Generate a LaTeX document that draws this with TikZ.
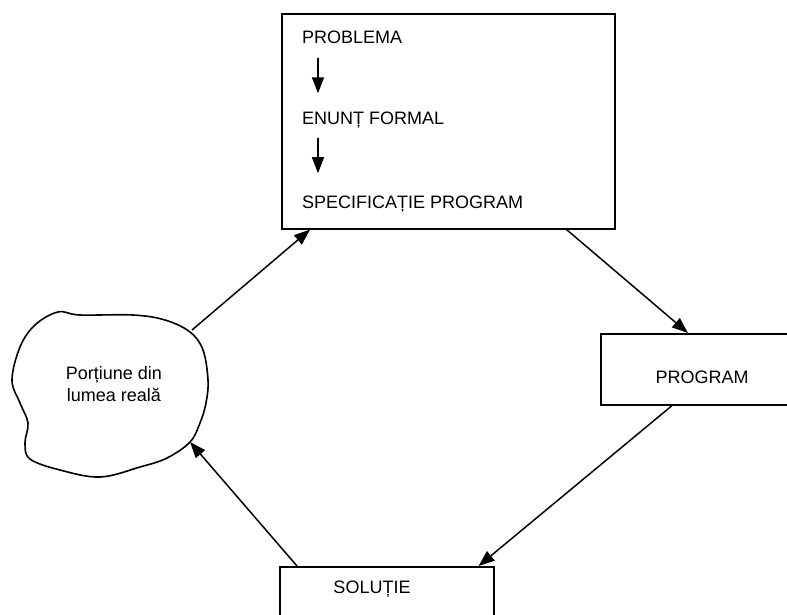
\documentclass[tikz,border=0pt]{standalone}
\usepackage{fontspec}
\setmainfont{Liberation Sans}
\usetikzlibrary{arrows.meta}

\begin{document}
\begin{tikzpicture}[x=1pt,y=-1pt,
    every node/.style={font=\fontsize{18}{21.5}\selectfont},
    frame/.style={draw,line width=1.6pt,inner sep=0pt,anchor=north west},
    lbl/.style={inner sep=0pt},
    flow/.style={-{Triangle[length=16pt,width=12pt]},line width=1.5pt}]
    \useasboundingbox (0,0) rectangle (787,614);
    \clip (0,0) rectangle (787,614);
    % Specification box
    \node[frame,minimum width=333pt,minimum height=215pt] (spec) at (281,13) {};
    \node[lbl,anchor=base west] (problema) at (302,43.5) {PROBLEMA};
    \node[lbl,anchor=base west] (enunt) at (302,124.5) {ENUNȚ FORMAL};
    \node[lbl,anchor=base west] (specif) at (302,208.5) {SPECIFICAȚIE PROGRAM};
    \draw[flow] ([xshift=16pt,yshift=-14.5pt]problema.base west) -- ([xshift=16pt,yshift=18.4pt]enunt.north west);
    \draw[flow] ([xshift=16pt,yshift=-13.5pt]enunt.base west) -- ([xshift=16pt,yshift=22.5pt]specif.north west);
    % Program box
    \node[frame,minimum width=200pt,minimum height=71pt] (prog) at (600,333) {};
    \node[lbl] (progtxt) at (702,377) {PROGRAM};
    % Solution box
    \node[frame,minimum width=214pt,minimum height=70pt] (sol) at (279,566) {};
    \node[lbl,anchor=base] (soltxt) at (372,593.5) {SOLUȚIE};
    % Real world
    \draw[line width=1.6pt] plot[smooth cycle,tension=0.6] coordinates {
        (58,312) (80,315) (133,315) (165,320) (190,332) (203,350) (208,380)
        (206,403) (200,423) (190,442) (167,458) (140,467) (100,477) (60,470)
        (30,459) (25,443) (28,423) (20,403) (12,380) (20,347) (35,325)};
    \node[lbl,align=center] (real) at (114,384) {Porțiune din\\lumea reală};
    \coordinate (realout) at (192,330);
    \coordinate (realin) at (190,442);
    % Cycle
    \draw[flow] (realout) -- ([xshift=29pt]spec.south west);
    \draw[flow] ([xshift=-49pt]spec.south east) -- ([xshift=88pt]prog.north west);
    \draw[flow] ([xshift=72pt]prog.south west) -- ([xshift=-16pt]sol.north east);
    \draw[flow] ([xshift=18pt]sol.north west) -- (realin);
\end{tikzpicture}
\end{document}
